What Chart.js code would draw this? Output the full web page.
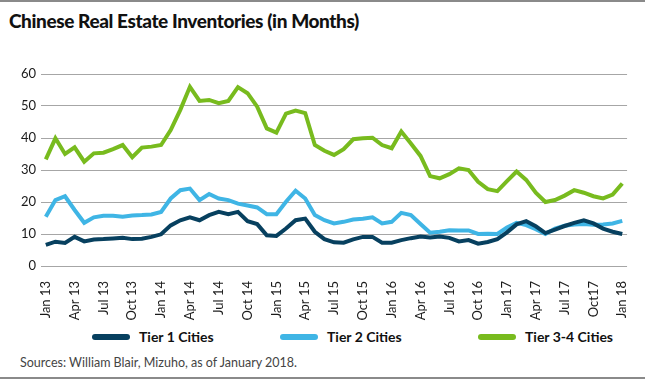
<!DOCTYPE html>
<html>
<head>
<meta charset="utf-8">
<script src="https://cdn.jsdelivr.net/npm/chart.js@4"></script>
<style>
  html, body { margin: 0; padding: 0; background: #fff; }
  #wrap { position: relative; width: 645px; height: 382px; overflow: hidden; font-family: Lato, "Open Sans", sans-serif; }
  #topline { position: absolute; left: 0; top: 0; width: 645px; height: 2px; background: #8a8a8a; }
  #bottomline { position: absolute; left: 0; top: 377px; width: 645px; height: 2px; background: #8a8a8a; }
  #title { position: absolute; left: 9px; top: 9px; font-size: 19px; font-weight: 900; color: #111; letter-spacing: -0.4px; }
  #chartBox { position: absolute; left: 0; top: 60px; width: 645px; height: 262px; }
  #legend { position: absolute; left: 0; top: 328px; width: 645px; height: 22px; }
  .item { position: absolute; top: 0; display: flex; align-items: center; font-size: 14px; font-weight: 700; color: #111; }
  .item i { display: inline-block; width: 38px; height: 6px; border-radius: 3px; margin-right: 9px; }
  #source { position: absolute; left: 20px; top: 355px; font-size: 12.5px; color: #444; }
</style>
</head>
<body>
<div id="wrap">
  <div id="topline"></div>
  <div id="title">Chinese Real Estate Inventories (in Months)</div>
  <div id="chartBox"><canvas id="chart" width="645" height="262"></canvas></div>
  <div id="legend"></div>
  <div id="source">Sources: William Blair, Mizuho, as of January 2018.</div>
  <div id="bottomline"></div>
</div>
<script>
// monthly categories, Jan 13 .. Jan 18
const months = [
  "Jan 13","Feb 13","Mar 13","Apr 13","May 13","Jun 13","Jul 13","Aug 13","Sep 13","Oct 13","Nov 13","Dec 13",
  "Jan 14","Feb 14","Mar 14","Apr 14","May 14","Jun 14","Jul 14","Aug 14","Sep 14","Oct 14","Nov 14","Dec 14",
  "Jan 15","Feb 15","Mar 15","Apr 15","May 15","Jun 15","Jul 15","Aug 15","Sep 15","Oct 15","Nov 15","Dec 15",
  "Jan 16","Feb 16","Mar 16","Apr 16","May 16","Jun 16","Jul 16","Aug 16","Sep 16","Oct 16","Nov 16","Dec 16",
  "Jan 17","Feb 17","Mar 17","Apr 17","May 17","Jun 17","Jul 17","Aug 17","Sep 17","Oct17","Nov 17","Dec 17",
  "Jan 18"
];

const tier1 = [
  6.6, 7.6, 7.2, 9.1, 7.7, 8.3, 8.4, 8.6, 8.8, 8.4, 8.5, 9.1,
  9.9, 12.7, 14.3, 15.2, 14.3, 15.9, 16.9, 16.2, 16.9, 14.0, 13.1, 9.6,
  9.4, 11.7, 14.3, 14.8, 10.7, 8.4, 7.4, 7.3, 8.3, 9.1, 9.1, 7.3,
  7.3, 8.1, 8.7, 9.2, 8.9, 9.2, 8.8, 7.7, 8.1, 7.0, 7.5, 8.4,
  10.5, 13.0, 14.0, 12.4, 10.3, 11.4, 12.5, 13.5, 14.3, 13.3, 11.7, 10.7,
  10.0
];

const tier2 = [
  15.4, 20.6, 21.8, 17.5, 13.5, 15.2, 15.7, 15.7, 15.4, 15.8, 15.9, 16.1,
  16.9, 21.1, 23.7, 24.2, 20.6, 22.5, 21.1, 20.6, 19.5, 18.9, 18.3, 16.2,
  16.2, 20.1, 23.5, 21.1, 15.9, 14.3, 13.3, 13.8, 14.5, 14.8, 15.2, 13.3,
  13.8, 16.6, 15.9, 13.1, 10.4, 10.7, 11.2, 11.1, 11.1, 10.0, 10.1, 10.0,
  12.0, 13.5, 12.8, 11.5, 10.0, 11.7, 12.6, 13.0, 13.1, 12.9, 13.0, 13.3,
  14.1
];

const tier34 = [
  33.3, 39.9, 35.0, 37.1, 32.6, 35.2, 35.4, 36.5, 37.8, 34.0, 37.0, 37.3,
  37.8, 42.5, 48.8, 56.0, 51.6, 51.9, 50.9, 51.6, 55.9, 54.0, 49.8, 43.0,
  41.7, 47.6, 48.6, 47.8, 37.8, 36.0, 34.7, 36.5, 39.6, 39.9, 40.1, 37.8,
  36.8, 42.0, 38.3, 34.4, 28.1, 27.4, 28.7, 30.5, 30.0, 26.3, 24.0, 23.4,
  26.5, 29.5, 26.9, 22.9, 20.0, 20.6, 22.0, 23.7, 22.9, 21.8, 21.1, 22.3,
  25.8
];

const seriesNames = ["Tier 1 Cities", "Tier 2 Cities", "Tier 3-4 Cities"];
const seriesColors = ["#07405f", "#3fb5e5", "#78bb1e"];
const legendLeft = [92, 280, 478];

const yTicks = [0, 10, 20, 30, 40, 50, 60];

function makeDataset(i, values) {
    return {
        label: seriesNames[i],
        data: values,
        borderColor: seriesColors[i],
        backgroundColor: seriesColors[i],
        borderWidth: 4,
        pointRadius: 0,
        tension: 0,
        fill: false
    };
}

const ctx = document.getElementById('chart').getContext('2d');
new Chart(ctx, {
    type: 'line',
    data: {
        labels: months,
        datasets: [makeDataset(0, tier1), makeDataset(1, tier2), makeDataset(2, tier34)]
    },
    options: {
        responsive: false,
        animation: false,
        layout: { padding: { left: 0, right: 17, top: 14, bottom: 0 } },
        plugins: { legend: { display: false }, tooltip: { enabled: false } },
        scales: {
            x: {
                offset: true,
                grid: { display: false },
                border: { display: false },
                afterFit: s => { s.height = 56; },
                ticks: {
                    autoSkip: false,
                    maxRotation: 90,
                    minRotation: 90,
                    padding: 7,
                    color: '#1a1a1a',
                    font: { family: 'Lato', size: 13 },
                    callback: (v, i) => (i % 3 === 0 ? months[i] : '')
                }
            },
            y: {
                min: 0,
                max: 60,
                afterFit: s => { s.width = 41; },
                afterBuildTicks: s => { s.ticks = yTicks.map(v => ({ value: v })); },
                grid: { color: '#a6a6a6', lineWidth: 1, drawTicks: false },
                border: { display: false },
                ticks: {
                    padding: 5,
                    color: '#1a1a1a',
                    font: { family: 'Lato', size: 13 }
                }
            }
        }
    }
});

// legend
const legend = document.getElementById('legend');
seriesNames.forEach((name, i) => {
    const d = document.createElement('div');
    d.className = 'item';
    d.style.left = legendLeft[i] + 'px';
    d.innerHTML = `<i style="background:${seriesColors[i]}"></i>${name}`;
    legend.appendChild(d);
});
</script>
</body>
</html>
